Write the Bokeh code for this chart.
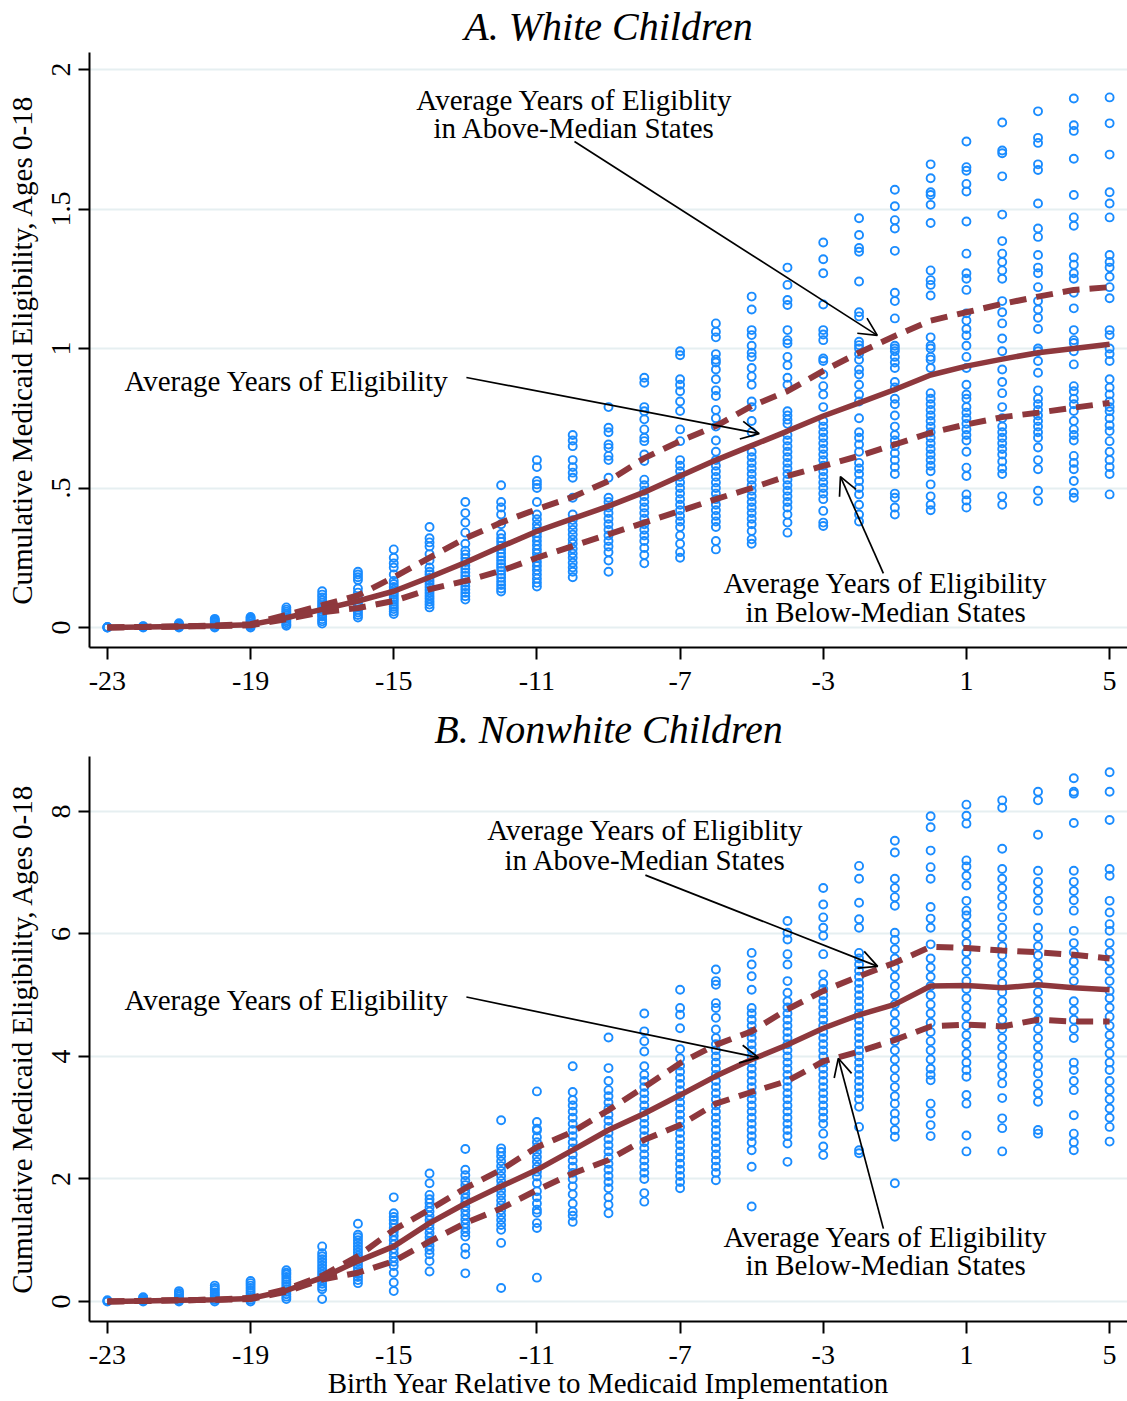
from bokeh.plotting import figure
from bokeh.layouts import column
from bokeh.models import FixedTicker, Label, Arrow, OpenHead
from bokeh.embed import file_html
from bokeh.resources import INLINE

# ---------------- data ----------------
years = list(range(-23, 6))
x_ticks = [-23, -19, -15, -11, -7, -3, 1, 5]
x_tick_labels = ["-23", "-19", "-15", "-11", "-7", "-3", "1", "5"]

# Panel A: state values per birth-year column (-23 ... 5)
white_pts = [
    [0.0, 0.0, 0.001, 0.002],
    [0.0, 0.002, 0.004, 0.005],
    [0.0, 0.003, 0.006, 0.009, 0.012, 0.015],
    [0.0, 0.004, 0.009, 0.013, 0.018, 0.022, 0.027, 0.031],
    [0.0, 0.005, 0.009, 0.014, 0.02, 0.024, 0.029, 0.034, 0.038],
    [0.006, 0.012, 0.019, 0.025, 0.031, 0.037, 0.044, 0.05, 0.057, 0.064, 0.072],
    [0.014, 0.022, 0.03, 0.039, 0.047, 0.055, 0.063, 0.072, 0.08, 0.089, 0.098, 0.108, 0.118, 0.13],
    [0.036, 0.045, 0.054, 0.063, 0.072, 0.081, 0.09, 0.1, 0.11, 0.125, 0.14, 0.17, 0.18, 0.19, 0.2],
    [0.048, 0.057, 0.066, 0.074, 0.083, 0.092, 0.1, 0.108, 0.117, 0.126, 0.135, 0.145, 0.156, 0.167, 0.19, 0.215, 0.23, 0.25, 0.28],
    [0.072, 0.082, 0.092, 0.103, 0.113, 0.124, 0.134, 0.145, 0.156, 0.167, 0.178, 0.19, 0.2, 0.215, 0.24, 0.263, 0.29, 0.305, 0.32, 0.36],
    [0.1, 0.112, 0.124, 0.136, 0.148, 0.16, 0.172, 0.185, 0.197, 0.21, 0.222, 0.235, 0.248, 0.262, 0.275, 0.3, 0.34, 0.376, 0.41, 0.45],
    [0.129, 0.14, 0.152, 0.165, 0.178, 0.19, 0.203, 0.216, 0.228, 0.24, 0.253, 0.266, 0.28, 0.293, 0.307, 0.32, 0.335, 0.37, 0.405, 0.43, 0.45, 0.51],
    [0.147, 0.16, 0.175, 0.19, 0.205, 0.22, 0.235, 0.25, 0.265, 0.28, 0.295, 0.31, 0.325, 0.34, 0.355, 0.37, 0.388, 0.405, 0.45, 0.5, 0.513, 0.525, 0.575, 0.6],
    [0.18, 0.2, 0.215, 0.232, 0.25, 0.265, 0.282, 0.3, 0.315, 0.333, 0.35, 0.367, 0.385, 0.405, 0.465, 0.537, 0.555, 0.575, 0.6, 0.65, 0.67, 0.69],
    [0.2, 0.24, 0.27, 0.29, 0.31, 0.33, 0.35, 0.37, 0.39, 0.41, 0.43, 0.45, 0.465, 0.537, 0.6, 0.615, 0.644, 0.656, 0.7, 0.716, 0.79],
    [0.23, 0.26, 0.285, 0.31, 0.33, 0.35, 0.37, 0.39, 0.41, 0.43, 0.45, 0.47, 0.49, 0.51, 0.53, 0.597, 0.62, 0.668, 0.68, 0.71, 0.746, 0.775, 0.79, 0.877, 0.895],
    [0.25, 0.27, 0.3, 0.33, 0.36, 0.38, 0.4, 0.42, 0.44, 0.46, 0.48, 0.5, 0.52, 0.54, 0.56, 0.58, 0.6, 0.668, 0.71, 0.776, 0.81, 0.847, 0.87, 0.89, 0.976, 0.99],
    [0.28, 0.31, 0.36, 0.38, 0.4, 0.42, 0.44, 0.46, 0.48, 0.5, 0.52, 0.54, 0.56, 0.58, 0.6, 0.63, 0.67, 0.72, 0.75, 0.78, 0.83, 0.85, 0.89, 0.925, 0.95, 0.96, 0.98, 1.04, 1.06, 1.09],
    [0.3, 0.316, 0.346, 0.37, 0.39, 0.41, 0.43, 0.45, 0.47, 0.49, 0.51, 0.53, 0.55, 0.57, 0.59, 0.61, 0.63, 0.7, 0.74, 0.79, 0.81, 0.87, 0.9, 0.93, 0.97, 0.985, 1.01, 1.048, 1.066, 1.14, 1.186],
    [0.34, 0.376, 0.405, 0.43, 0.45, 0.47, 0.49, 0.51, 0.53, 0.55, 0.57, 0.59, 0.61, 0.63, 0.65, 0.67, 0.69, 0.73, 0.745, 0.76, 0.775, 0.87, 0.895, 0.94, 0.97, 1.018, 1.03, 1.066, 1.156, 1.174, 1.228, 1.29],
    [0.364, 0.376, 0.418, 0.46, 0.48, 0.5, 0.52, 0.54, 0.56, 0.58, 0.6, 0.62, 0.64, 0.66, 0.68, 0.7, 0.72, 0.74, 0.79, 0.835, 0.865, 0.907, 0.955, 0.964, 1.03, 1.05, 1.066, 1.158, 1.27, 1.32, 1.38],
    [0.38, 0.405, 0.44, 0.477, 0.5, 0.525, 0.55, 0.57, 0.59, 0.63, 0.656, 0.68, 0.7, 0.75, 0.81, 0.835, 0.87, 0.907, 0.925, 0.96, 0.98, 1.0, 1.012, 1.024, 1.115, 1.13, 1.24, 1.347, 1.36, 1.407, 1.467],
    [0.405, 0.43, 0.465, 0.48, 0.55, 0.575, 0.6, 0.625, 0.65, 0.67, 0.69, 0.72, 0.76, 0.8, 0.82, 0.86, 0.88, 0.93, 0.95, 0.97, 0.99, 1.0, 1.01, 1.108, 1.17, 1.2, 1.35, 1.43, 1.46, 1.51, 1.569],
    [0.42, 0.44, 0.47, 0.513, 0.56, 0.58, 0.6, 0.62, 0.64, 0.66, 0.68, 0.7, 0.72, 0.74, 0.76, 0.78, 0.8, 0.82, 0.84, 0.93, 0.96, 0.97, 1.0, 1.01, 1.04, 1.19, 1.228, 1.245, 1.28, 1.45, 1.515, 1.55, 1.56, 1.61, 1.66],
    [0.43, 0.455, 0.477, 0.543, 0.573, 0.63, 0.67, 0.69, 0.71, 0.73, 0.75, 0.77, 0.79, 0.82, 0.835, 0.87, 0.93, 0.97, 1.01, 1.047, 1.07, 1.1, 1.126, 1.21, 1.25, 1.27, 1.34, 1.455, 1.563, 1.59, 1.637, 1.65, 1.742],
    [0.44, 0.47, 0.55, 0.57, 0.595, 0.62, 0.64, 0.66, 0.68, 0.7, 0.72, 0.75, 0.79, 0.84, 0.88, 0.925, 0.99, 1.036, 1.09, 1.13, 1.17, 1.25, 1.28, 1.31, 1.34, 1.385, 1.48, 1.617, 1.7, 1.71, 1.81],
    [0.453, 0.49, 0.567, 0.6, 0.645, 0.68, 0.7, 0.72, 0.74, 0.76, 0.78, 0.8, 0.82, 0.85, 0.913, 0.955, 0.99, 1.0, 1.07, 1.11, 1.14, 1.17, 1.22, 1.27, 1.29, 1.335, 1.4, 1.43, 1.52, 1.64, 1.66, 1.737, 1.755, 1.85],
    [0.465, 0.483, 0.525, 0.567, 0.59, 0.615, 0.67, 0.69, 0.71, 0.74, 0.776, 0.8, 0.82, 0.847, 0.865, 0.943, 0.99, 1.02, 1.03, 1.066, 1.144, 1.2, 1.25, 1.27, 1.3, 1.326, 1.44, 1.47, 1.55, 1.68, 1.78, 1.8, 1.896],
    [0.477, 0.55, 0.575, 0.6, 0.63, 0.668, 0.704, 0.725, 0.75, 0.775, 0.79, 0.81, 0.835, 0.86, 0.89, 0.955, 0.98, 1.0, 1.048, 1.066, 1.18, 1.22, 1.257, 1.29, 1.31, 1.335, 1.47, 1.52, 1.56, 1.695, 1.807, 1.9],
]
white_mean = [0.0, 0.002, 0.004, 0.006, 0.01, 0.035, 0.065, 0.095, 0.13, 0.18, 0.233, 0.29, 0.345, 0.39, 0.435,
              0.485, 0.543, 0.6, 0.652, 0.704, 0.758, 0.805, 0.853, 0.905, 0.937, 0.962, 0.985, 1.0, 1.015]
white_above = [0.0, 0.002, 0.004, 0.007, 0.012, 0.045, 0.08, 0.115, 0.18, 0.25, 0.32, 0.376, 0.424, 0.468, 0.525,
               0.607, 0.668, 0.722, 0.794, 0.847, 0.92, 0.985, 1.045, 1.1, 1.13, 1.16, 1.186, 1.21, 1.22]
white_below = [0.0, 0.002, 0.004, 0.005, 0.008, 0.03, 0.055, 0.07, 0.095, 0.137, 0.167, 0.203, 0.25, 0.292, 0.334,
               0.376, 0.418, 0.46, 0.5, 0.543, 0.579, 0.615, 0.656, 0.698, 0.728, 0.754, 0.77, 0.788, 0.805]

# Panel B
nonwhite_pts = [
    [0.0, 0.01, 0.02],
    [0.0, 0.02, 0.04, 0.06, 0.07],
    [0.0, 0.02, 0.05, 0.08, 0.11, 0.14, 0.17],
    [0.0, 0.03, 0.06, 0.09, 0.12, 0.15, 0.19, 0.22, 0.26],
    [0.0, 0.03, 0.06, 0.1, 0.14, 0.18, 0.22, 0.26, 0.3, 0.335],
    [0.04, 0.08, 0.12, 0.16, 0.2, 0.24, 0.28, 0.32, 0.36, 0.4, 0.44, 0.47, 0.51],
    [0.04, 0.2, 0.24, 0.29, 0.34, 0.39, 0.44, 0.49, 0.54, 0.59, 0.64, 0.69, 0.74, 0.79, 0.9],
    [0.3, 0.35, 0.4, 0.45, 0.5, 0.55, 0.6, 0.65, 0.7, 0.75, 0.8, 0.85, 0.9, 0.95, 1.0, 1.05, 1.09, 1.27],
    [0.17, 0.31, 0.47, 0.58, 0.65, 0.72, 0.79, 0.86, 0.93, 1.0, 1.07, 1.14, 1.2, 1.27, 1.33, 1.38, 1.44, 1.7],
    [0.49, 0.66, 0.77, 0.84, 0.91, 0.98, 1.05, 1.12, 1.19, 1.26, 1.33, 1.4, 1.47, 1.54, 1.61, 1.67, 1.74, 1.93, 2.09],
    [0.46, 0.77, 0.876, 1.06, 1.13, 1.2, 1.27, 1.34, 1.41, 1.48, 1.55, 1.62, 1.69, 1.76, 1.83, 1.9, 1.97, 2.06, 2.15, 2.49],
    [0.22, 0.957, 1.17, 1.25, 1.33, 1.41, 1.49, 1.57, 1.65, 1.73, 1.81, 1.89, 1.97, 2.05, 2.13, 2.21, 2.29, 2.37, 2.44, 2.5, 2.96],
    [0.39, 1.2, 1.28, 1.45, 1.5, 1.6, 1.7, 1.8, 1.93, 2.04, 2.12, 2.2, 2.28, 2.36, 2.44, 2.52, 2.6, 2.68, 2.79, 2.82, 2.93, 3.43],
    [1.3, 1.4, 1.47, 1.6, 1.75, 1.88, 2.0, 2.1, 2.2, 2.3, 2.4, 2.5, 2.6, 2.7, 2.8, 2.9, 3.0, 3.1, 3.2, 3.29, 3.42, 3.84],
    [1.44, 1.58, 1.7, 1.85, 1.95, 2.05, 2.15, 2.25, 2.35, 2.45, 2.55, 2.65, 2.75, 2.85, 2.95, 3.05, 3.15, 3.25, 3.35, 3.45, 3.6, 3.81, 4.31],
    [1.63, 1.77, 2.0, 2.1, 2.2, 2.3, 2.4, 2.5, 2.6, 2.7, 2.8, 2.9, 3.0, 3.1, 3.2, 3.3, 3.4, 3.5, 3.6, 3.7, 3.84, 4.08, 4.25, 4.41, 4.7],
    [1.85, 1.95, 2.05, 2.15, 2.25, 2.35, 2.45, 2.55, 2.65, 2.75, 2.85, 2.95, 3.05, 3.15, 3.25, 3.35, 3.45, 3.55, 3.65, 3.75, 3.85, 3.97, 4.12, 4.46, 4.68, 4.79, 5.09],
    [1.98, 2.1, 2.2, 2.3, 2.4, 2.5, 2.6, 2.7, 2.8, 2.9, 3.0, 3.1, 3.2, 3.3, 3.4, 3.5, 3.6, 3.7, 3.8, 3.9, 4.0, 4.1, 4.2, 4.3, 4.44, 4.63, 4.79, 4.87, 5.17, 5.23, 5.42],
    [1.55, 2.2, 2.47, 2.6, 2.7, 2.8, 2.9, 3.0, 3.1, 3.2, 3.3, 3.4, 3.5, 3.6, 3.7, 3.8, 3.9, 4.0, 4.1, 4.2, 4.3, 4.4, 4.5, 4.6, 4.7, 4.79, 5.09, 5.31, 5.5, 5.69],
    [2.28, 2.58, 2.7, 2.8, 2.9, 3.0, 3.1, 3.2, 3.3, 3.4, 3.5, 3.6, 3.7, 3.8, 3.9, 4.0, 4.1, 4.2, 4.3, 4.4, 4.5, 4.6, 4.7, 4.8, 4.9, 5.04, 5.23, 5.5, 5.67, 5.91, 6.02, 6.21],
    [2.39, 2.53, 2.74, 2.9, 3.0, 3.1, 3.2, 3.3, 3.4, 3.5, 3.6, 3.7, 3.8, 3.9, 4.0, 4.1, 4.2, 4.3, 4.4, 4.5, 4.6, 4.7, 4.8, 4.9, 5.0, 5.1, 5.2, 5.34, 5.67, 5.97, 6.1, 6.27, 6.48, 6.75],
    [2.42, 2.47, 2.85, 3.18, 3.3, 3.4, 3.5, 3.6, 3.7, 3.8, 3.9, 4.0, 4.1, 4.2, 4.3, 4.4, 4.5, 4.6, 4.7, 4.8, 4.9, 5.0, 5.1, 5.2, 5.3, 5.4, 5.5, 5.6, 5.69, 6.1, 6.24, 6.51, 6.9, 7.11],
    [1.93, 2.69, 2.8, 2.95, 3.07, 3.23, 3.35, 3.5, 3.65, 3.8, 3.95, 4.1, 4.25, 4.4, 4.55, 4.7, 4.85, 5.0, 5.15, 5.3, 5.45, 5.6, 5.75, 5.9, 6.02, 6.46, 6.6, 6.75, 6.9, 7.33, 7.52],
    [2.7, 2.88, 3.07, 3.23, 3.61, 3.7, 3.8, 3.95, 4.1, 4.25, 4.4, 4.55, 4.7, 4.85, 5.0, 5.15, 5.3, 5.45, 5.6, 5.83, 6.1, 6.25, 6.44, 6.9, 7.09, 7.36, 7.74, 7.92],
    [2.45, 2.71, 3.23, 3.37, 3.67, 3.78, 3.9, 4.05, 4.2, 4.35, 4.5, 4.65, 4.8, 4.95, 5.1, 5.23, 5.39, 5.55, 5.7, 5.85, 6.0, 6.15, 6.3, 6.38, 6.54, 6.79, 6.95, 7.1, 7.2, 7.8, 7.93, 8.11],
    [2.45, 2.83, 2.99, 3.32, 3.56, 3.7, 3.85, 4.0, 4.15, 4.3, 4.45, 4.6, 4.75, 4.9, 5.05, 5.2, 5.35, 5.5, 5.65, 5.8, 5.95, 6.1, 6.27, 6.45, 6.6, 6.75, 6.9, 7.06, 7.39, 8.06, 8.18],
    [2.74, 2.8, 3.26, 3.4, 3.55, 3.72, 3.85, 4.0, 4.15, 4.3, 4.45, 4.6, 4.75, 4.9, 5.05, 5.2, 5.35, 5.5, 5.65, 5.8, 5.95, 6.1, 6.38, 6.55, 6.7, 6.85, 7.03, 7.62, 8.18, 8.32],
    [2.47, 2.6, 2.74, 3.04, 3.45, 3.6, 3.78, 3.9, 4.3, 4.45, 4.6, 4.75, 4.9, 5.23, 5.4, 5.55, 5.7, 5.85, 6.05, 6.38, 6.55, 6.7, 6.85, 7.03, 7.81, 8.29, 8.32, 8.54],
    [2.61, 2.85, 3.0, 3.15, 3.3, 3.45, 3.6, 3.78, 3.9, 4.05, 4.2, 4.35, 4.5, 4.65, 4.8, 4.95, 5.07, 5.23, 5.4, 5.55, 5.7, 5.85, 6.05, 6.16, 6.35, 6.54, 6.95, 7.06, 7.86, 8.32, 8.64],
]
nonwhite_mean = [0.0, 0.01, 0.02, 0.03, 0.05, 0.18, 0.39, 0.66, 0.9, 1.28, 1.6, 1.88, 2.15, 2.47, 2.8,
                 3.07, 3.37, 3.68, 3.95, 4.19, 4.46, 4.68, 4.85, 5.15, 5.16, 5.12, 5.17, 5.12, 5.09]
nonwhite_above = [0.0, 0.01, 0.02, 0.03, 0.06, 0.2, 0.42, 0.74, 1.17, 1.5, 1.85, 2.15, 2.52, 2.77, 3.125,
                  3.5, 3.89, 4.19, 4.41, 4.77, 5.07, 5.31, 5.53, 5.79, 5.77, 5.73, 5.7, 5.66, 5.6]
nonwhite_below = [0.0, 0.01, 0.02, 0.03, 0.04, 0.16, 0.36, 0.47, 0.66, 0.98, 1.28, 1.52, 1.82, 2.09, 2.31,
                  2.64, 2.88, 3.23, 3.42, 3.6, 3.92, 4.08, 4.27, 4.49, 4.52, 4.49, 4.6, 4.57, 4.57]

white_yticks = [0, 0.5, 1, 1.5, 2]
white_ylabels = ["0", ".5", "1", "1.5", "2"]
nonwhite_yticks = [0, 2, 4, 6, 8]
nonwhite_ylabels = ["0", "2", "4", "6", "8"]

# ---------------- styling ----------------
FONT = "Liberation Serif"
BLUE = "#1A8CFF"
MAROON = "#8E383D"
GRID = "#E6EFF1"


def make_panel(height, yr, yticks, ylabels, btop, bbottom, pts, mean, above, below,
               title, title_standoff, title_valign, notes, arrows, xlabel=None):
    p = figure(width=1127, height=height, x_range=(-23.5, 5.5), y_range=yr,
               output_backend="svg", toolbar_location=None,
               min_border_left=89, min_border_right=0,
               min_border_top=btop, min_border_bottom=bbottom)
    p.outline_line_color = None
    p.background_fill_color = "white"
    p.border_fill_color = "white"

    p.title.text = title
    p.title.align = "center"
    p.title.vertical_align = title_valign
    p.title.text_font = FONT
    p.title.text_font_style = "italic"
    p.title.text_font_size = "40px"
    p.title.text_color = "black"
    p.title.standoff = title_standoff

    xs, ys = [], []
    for yv, col in zip(years, pts):
        for v in col:
            xs.append(yv)
            ys.append(v)
    p.scatter(x=xs, y=ys, marker="circle", size=8, fill_color=None,
              line_color=BLUE, line_width=1.9)

    p.line(years, above, line_color=MAROON, line_width=6, line_dash="17 10")
    p.line(years, below, line_color=MAROON, line_width=6, line_dash="17 10")
    p.line(years, mean, line_color=MAROON, line_width=5.5)

    # axes
    p.xaxis.ticker = FixedTicker(ticks=x_ticks)
    p.xaxis.major_label_overrides = {t: l for t, l in zip(x_ticks, x_tick_labels)}
    p.yaxis.ticker = FixedTicker(ticks=yticks)
    p.yaxis.major_label_overrides = {t: l for t, l in zip(yticks, ylabels)}
    p.yaxis.major_label_orientation = "vertical"
    for ax in (p.xaxis, p.yaxis):
        ax.axis_line_width = 2
        ax.axis_line_color = "black"
        ax.major_tick_line_width = 2
        ax.major_tick_line_color = "black"
        ax.major_tick_in = 0
        ax.major_tick_out = 12
        ax.minor_tick_line_color = None
        ax.major_label_text_font = FONT
        ax.major_label_text_font_size = "28px"
        ax.major_label_text_color = "black"
        ax.axis_label_text_font = FONT
        ax.axis_label_text_font_size = "29px"
        ax.axis_label_text_font_style = "normal"
        ax.axis_label_text_color = "black"
    p.yaxis.major_tick_out = 11
    p.yaxis.major_label_standoff = 8
    p.yaxis.axis_label = "Cumulative Medicaid Eligibility, Ages 0-18"
    p.yaxis.axis_label_standoff = 12
    p.xaxis.major_label_standoff = 12
    if xlabel:
        p.xaxis.axis_label = xlabel
        p.xaxis.axis_label_standoff = 0

    p.xgrid.grid_line_color = None
    p.ygrid.ticker = FixedTicker(ticks=yticks)
    p.ygrid.grid_line_color = GRID
    p.ygrid.grid_line_width = 2

    for (tx, ty, txt, align) in notes:
        p.add_layout(Label(x=tx, y=ty, text=txt, text_align=align,
                           text_baseline="middle", text_font=FONT,
                           text_font_size="29px", text_color="black"))
    for (x0, y0, x1, y1) in arrows:
        p.add_layout(Arrow(end=OpenHead(size=18, line_width=1.7, line_color="black"),
                           x_start=x0, y_start=y0, x_end=x1, y_end=y1,
                           line_width=1.7, line_color="black"))
    return p


notes_a = [
    (-9.95, 1.889, "Average Years of Eligiblity", "center"),
    (-9.95, 1.789, "in Above-Median States", "center"),
    (-22.525, 0.885, "Average Years of Eligibility", "left"),
    (-1.26, 0.158, "Average Years of Eligibility", "center"),
    (-1.26, 0.057, "in Below-Median States", "center"),
]
arrows_a = [
    (-9.95, 1.742, -1.49, 1.047),
    (-12.97, 0.896, -4.79, 0.695),
    (-1.32, 0.194, -2.52, 0.541),
]
notes_b = [
    (-7.97, 7.69, "Average Years of Eligiblity", "center"),
    (-7.97, 7.2, "in Above-Median States", "center"),
    (-22.525, 4.92, "Average Years of Eligibility", "left"),
    (-1.26, 1.06, "Average Years of Eligibility", "center"),
    (-1.26, 0.6, "in Below-Median States", "center"),
]
arrows_b = [
    (-7.97, 6.96, -1.48, 5.47),
    (-12.97, 4.97, -4.81, 3.98),
    (-1.32, 1.19, -2.58, 3.97),
]

pa = make_panel(698, (-0.0717, 2.061), white_yticks, white_ylabels, 52, 51,
                white_pts, white_mean, white_above, white_below,
                "A. White Children", 4, "top", notes_a, arrows_a)
pb = make_panel(703, (-0.326, 8.896), nonwhite_yticks, nonwhite_ylabels, 58, 79,
                nonwhite_pts, nonwhite_mean, nonwhite_above, nonwhite_below,
                "B. Nonwhite Children", 9, "bottom", notes_b, arrows_b,
                xlabel="Birth Year Relative to Medicaid Implementation")

layout = column(pa, pb)
open("out.html", "w").write(file_html(layout, INLINE))
